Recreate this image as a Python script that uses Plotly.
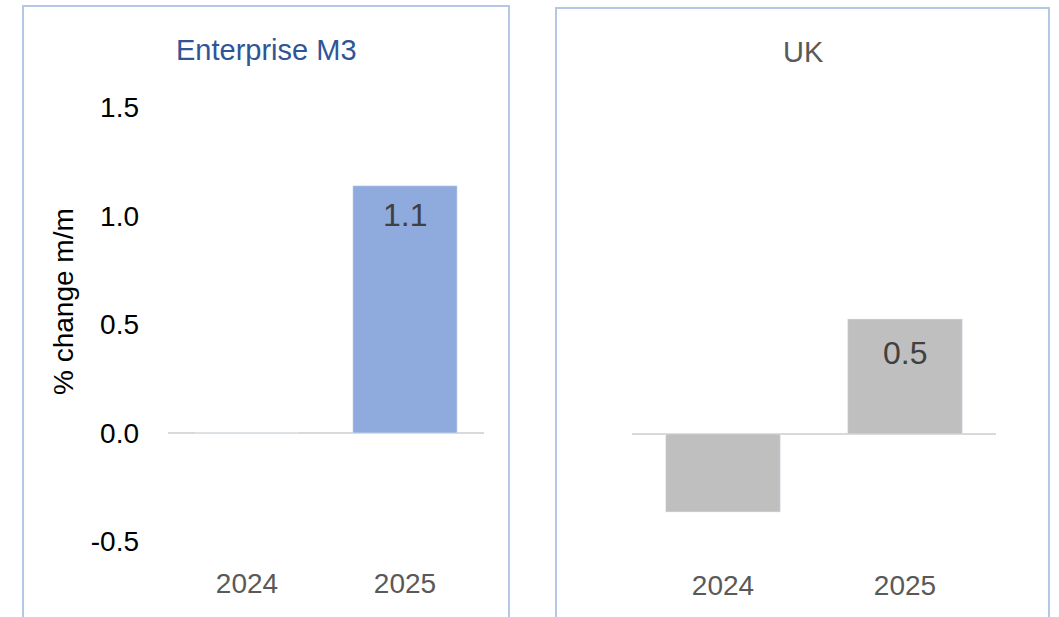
import plotly.graph_objects as go

# data
years = ["2024", "2025"]
m3_values = [0.0, 1.14]
uk_values = [-0.36, 0.53]
m3_labels = ["", "1.1"]
uk_labels = ["", "0.5"]
y_ticks = [-0.5, 0.0, 0.5, 1.0, 1.5]

W, H = 1059, 617
FONT = "Liberation Sans, Arial"
FS = 28


def px_x(v):
    return v / W


def px_y(v):
    return 1 - v / H


fig = go.Figure()

fig.add_trace(go.Bar(x=years, y=m3_values, marker=dict(color="#8FAADC"),
                     width=0.66, xaxis="x", yaxis="y", showlegend=False))
fig.add_trace(go.Bar(x=years, y=uk_values, marker=dict(color="#BFBFBF"),
                     width=0.63, xaxis="x2", yaxis="y2", showlegend=False))

annotations = []
for i, (y, t) in enumerate(zip(m3_values, m3_labels)):
    if t:
        annotations.append(dict(x=i, y=y, xref="x", yref="y", text=t, showarrow=False,
                                xanchor="center", yanchor="top", yshift=-9,
                                font=dict(family=FONT, size=32, color="#404040")))
for i, (y, t) in enumerate(zip(uk_values, uk_labels)):
    if t:
        annotations.append(dict(x=i, y=y, xref="x2", yref="y2", text=t, showarrow=False,
                                xanchor="center", yanchor="top", yshift=-14,
                                font=dict(family=FONT, size=32, color="#404040")))

annotations += [
    dict(x=px_x(266), y=px_y(50), xref="paper", yref="paper", text="Enterprise M3",
         xanchor="center", yanchor="middle", showarrow=False,
         font=dict(family=FONT, size=29, color="#2F5597")),
    dict(x=px_x(803), y=px_y(52), xref="paper", yref="paper", text="UK",
         xanchor="center", yanchor="middle", showarrow=False,
         font=dict(family=FONT, size=29, color="#595959")),
    dict(x=px_x(63), y=px_y(302), xref="paper", yref="paper", text="% change m/m",
         xanchor="center", yanchor="middle", textangle=-90, showarrow=False,
         font=dict(family=FONT, size=FS, color="#000000")),
]

border = dict(color="#B4C7E7", width=2)
shapes = [
    dict(type="rect", xref="paper", yref="paper", x0=px_x(23), x1=px_x(509),
         y0=-0.1, y1=px_y(6), line=border),
    dict(type="rect", xref="paper", yref="paper", x0=px_x(556), x1=px_x(1049),
         y0=-0.1, y1=px_y(8), line=border),
]

yrange = [-0.6, 1.6]
fig.update_layout(
    width=W, height=H,
    margin=dict(l=0, r=0, t=0, b=0),
    paper_bgcolor="white", plot_bgcolor="white",
    font=dict(family=FONT, size=FS),
    annotations=annotations,
    shapes=shapes,
    xaxis=dict(domain=[px_x(168), px_x(484)], range=[-0.5, 1.5], type="category",
               showgrid=False, showline=False, zeroline=False, ticks="",
               tickfont=dict(family=FONT, size=FS, color="#595959"), ticklabelstandoff=1),
    yaxis=dict(domain=[px_y(563), px_y(86)], range=yrange, tickvals=y_ticks,
               ticktext=["%.1f" % v for v in y_ticks], showgrid=False, showline=False,
               zeroline=True, zerolinecolor="#D9D9D9", zerolinewidth=2,
               tickfont=dict(family=FONT, size=FS, color="#000000"), ticklabelstandoff=28),
    xaxis2=dict(domain=[px_x(632), px_x(996)], range=[-0.5, 1.5], type="category",
                anchor="y2", showgrid=False, showline=False, zeroline=False, ticks="",
                tickfont=dict(family=FONT, size=FS, color="#595959"), ticklabelstandoff=2),
    yaxis2=dict(domain=[px_y(564), px_y(87)], range=yrange, anchor="x2",
                showticklabels=False, showgrid=False, showline=False,
                zeroline=True, zerolinecolor="#D9D9D9", zerolinewidth=2),
)

fig.write_html("out.html", config={"displayModeBar": False},
               post_script="document.body.style.margin='0px';")
